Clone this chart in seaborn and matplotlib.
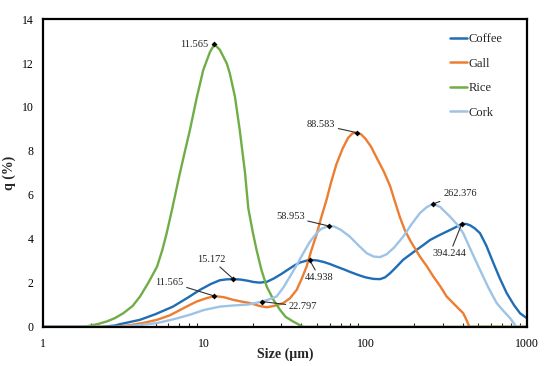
import numpy as np
import pandas as pd
import matplotlib
matplotlib.use("Agg")
import matplotlib.pyplot as plt
import seaborn as sns

# ---------------- data ----------------
coffee_x = [1, 2.3, 2.8, 3.0, 4.0, 5.0, 6.4, 8.0, 9.4, 11.0, 12.5, 13.8, 15.172, 16.8, 18.5, 20.2, 22.1, 24.5,
            27, 30, 33, 36, 39, 44.938, 50, 55, 60, 66, 73, 80, 90, 100, 112, 123, 132, 142, 155, 171, 190,
            207, 228, 251, 283, 318, 355, 394.244, 420, 444, 475, 512, 560, 620, 680, 750, 830, 906, 1000]
coffee_q = [0, 0, 0.06, 0.12, 0.32, 0.58, 0.92, 1.35, 1.68, 1.95, 2.12, 2.16, 2.17, 2.15, 2.1, 2.04, 2.01, 2.05,
            2.2, 2.4, 2.6, 2.78, 2.92, 3.05, 3.02, 2.95, 2.86, 2.74, 2.62, 2.5, 2.36, 2.25, 2.18, 2.17, 2.25, 2.44,
            2.72, 3.05, 3.3, 3.5, 3.72, 3.95, 4.15, 4.33, 4.5, 4.68, 4.68, 4.62, 4.48, 4.26, 3.7, 2.9, 2.2, 1.53,
            1.0, 0.62, 0.39]

gall_x = [1, 2.8, 3.5, 4.2, 5.1, 6.1, 7.1, 8.0, 8.97, 10.3, 11.565, 13.2, 15.1, 17, 19.2, 22, 24.4, 27, 30.9,
          34, 37.4, 40, 43.1, 46, 49.7, 53, 57.4, 61, 66, 72, 78, 83, 88.583, 94, 100, 108, 117, 130, 142,
          152, 163, 175, 190, 217, 240, 263, 290, 318, 360, 403, 420, 440, 1000]
gall_q = [0, 0, 0.08, 0.18, 0.32, 0.52, 0.77, 0.97, 1.15, 1.3, 1.4, 1.35, 1.23, 1.15, 1.08, 0.95, 0.89, 0.95, 1.08,
          1.3, 1.68, 2.15, 2.74, 3.45, 4.2, 4.95, 5.8, 6.55, 7.4, 8.1, 8.6, 8.8, 8.83, 8.75, 8.55, 8.2, 7.7, 7.05,
          6.4, 5.7, 5.0, 4.4, 3.9, 3.2, 2.75, 2.29, 1.85, 1.38, 0.98, 0.62, 0.35, 0, 0]

rice_x = [1, 1.8, 1.95, 2.2, 2.5, 2.8, 3.15, 3.6, 4.0, 4.5, 5.1, 5.5, 5.85, 6.3, 7.07, 7.6, 8.15, 8.97, 9.86,
          10.85, 11.565, 12.5, 13.8, 14.4, 15.5, 16.6, 17.9, 18.75, 20, 21.1, 22.6, 24.4, 27, 29.5, 32,
          35.6, 41, 1000]
rice_q = [0, 0, 0.05, 0.13, 0.25, 0.4, 0.62, 0.95, 1.38, 2.0, 2.74, 3.5, 4.26, 5.3, 7.0, 8.0, 8.95, 10.4, 11.68,
          12.5, 12.85, 12.6, 11.98, 11.53, 10.47, 8.95, 7.0, 5.4, 4.3, 3.5, 2.6, 1.83, 1.2, 0.77, 0.45,
          0.24, 0, 0]

cork_x = [1, 3.0, 4.0, 5.1, 6.5, 8.15, 10, 12.5, 15.1, 19, 22.797, 25, 28.1, 31, 34, 37.5, 41.1, 45, 49.7,
          53, 58.953, 64, 70, 80, 90, 101.6, 112, 123, 135, 150, 171, 192, 217, 240, 262.376, 290, 334,
          370, 403, 455, 512, 580, 650, 720, 786, 860, 1000]
cork_q = [0, 0, 0.08, 0.17, 0.35, 0.55, 0.77, 0.92, 0.97, 1.02, 1.15, 1.24, 1.38, 1.8, 2.29, 2.82, 3.35, 3.85, 4.26,
          4.45, 4.59, 4.56, 4.42, 4.1, 3.72, 3.35, 3.2, 3.17, 3.3, 3.6, 4.1, 4.65, 5.17, 5.45, 5.59, 5.45, 5.01,
          4.65, 4.26, 3.4, 2.59, 1.75, 1.08, 0.7, 0.4, 0, 0]

series_names = ["Coffee", "Gall", "Rice", "Cork"]

peak_x = [11.565, 88.583, 58.953, 15.172, 11.565, 22.797, 44.938, 262.376, 394.244]
peak_q = [12.85, 8.83, 4.59, 2.17, 1.40, 1.15, 3.05, 5.59, 4.68]
peak_labels = ["11.565", "88.583", "58.953", "15.172", "11.565", "22.797", "44.938", "262.376", "394.244"]

# ---------------- layout / style ----------------
label_offsets = [(-6, 0, "right", False), (-22, 8, "right", True), (-24, 9, "right", True),
                 (-8, 20, "right", True), (-31, 14, "right", True), (27, -5, "left", True),
                 (10, -18, "center", True), (10, 10, "left", True), (-12, -30, "center", True)]
palette = {"Coffee": "#1F6DB5", "Gall": "#ED7D31", "Rice": "#70AD47", "Cork": "#9DC3E6"}

frames = []
for name, xs, qs in zip(series_names, [coffee_x, gall_x, rice_x, cork_x],
                        [coffee_q, gall_q, rice_q, cork_q]):
    frames.append(pd.DataFrame({"size": xs, "q": qs, "sample": name}))
df = pd.concat(frames, ignore_index=True)

sns.set_theme(style="white")
plt.rcParams["font.family"] = ["Liberation Serif", "DejaVu Serif"]

fig = plt.figure(figsize=(5.5, 3.66), dpi=100)
ax = fig.add_axes([0.078, 0.107, 0.880, 0.841])

sns.lineplot(data=df, x="size", y="q", hue="sample", hue_order=series_names,
             palette=palette, estimator=None, sort=False, linewidth=1.7, ax=ax)
for ln in ax.get_lines():
    ln.set_solid_joinstyle("round")
    ln.set_solid_capstyle("round")

ax.set_xscale("log")
ax.set_xlim(1, 1000)
ax.set_ylim(0, 14)
ax.set_yticks(np.arange(0, 15, 2))
ax.set_xticks([1, 10, 100, 1000])
ax.set_xticklabels(["1", "10", "100", "1000"])

for s in ax.spines.values():
    s.set_color("black")
    s.set_linewidth(1.6)

ax.tick_params(axis="both", which="major", direction="inout", length=6, width=1.2,
               colors="black", labelsize=8.5)
ax.tick_params(axis="x", which="major", pad=5)
ax.tick_params(axis="x", which="minor", direction="in", length=3, width=0.8, bottom=True)

ax.set_xlabel("Size (µm)", fontsize=10, fontweight="bold", labelpad=-2)
ax.set_ylabel("q (%)", fontsize=10, fontweight="bold", labelpad=4)

# peak markers + labels
ax.scatter(peak_x, peak_q, marker="D", s=9, color="black", zorder=5, linewidths=0)
for px, pq, lab, (dx, dy, ha, line) in zip(peak_x, peak_q, peak_labels, label_offsets):
    arrow = dict(arrowstyle="-", color="#333333", lw=0.8, shrinkA=0, shrinkB=1) if line else None
    ax.annotate(lab, xy=(px, pq), xytext=(dx, dy), textcoords="offset pixels",
                ha=ha, va="center", fontsize=7.5, color="#222222", arrowprops=arrow)

leg = ax.legend(loc="upper left", bbox_to_anchor=(0.83, 0.97), frameon=False, fontsize=9,
                handlelength=1.4, handletextpad=0.15, labelspacing=1.0, borderaxespad=0)
for line in leg.get_lines():
    line.set_linewidth(1.8)

fig.savefig("out.png", dpi=100)
